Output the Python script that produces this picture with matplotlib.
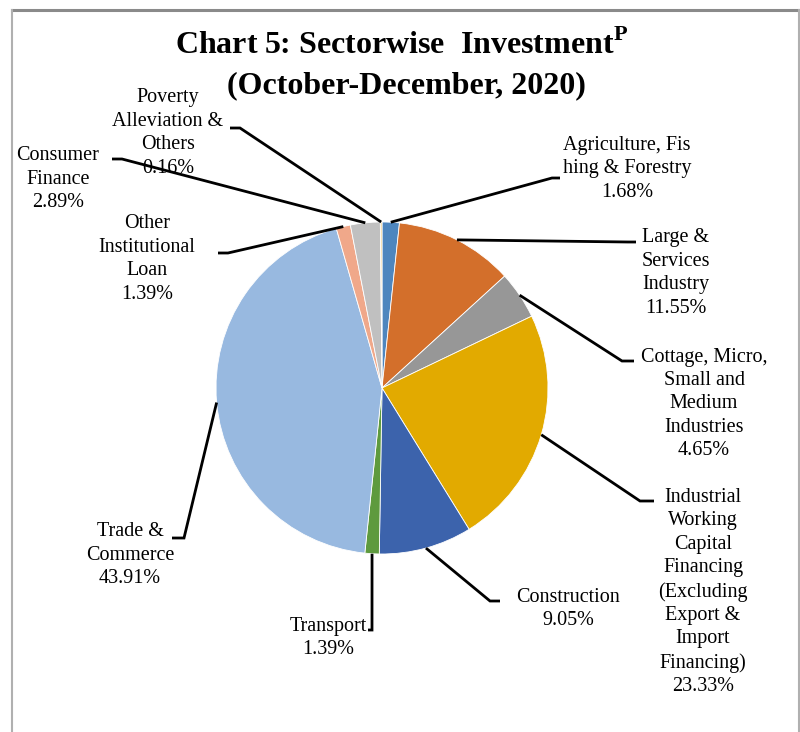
import numpy as np
import matplotlib.pyplot as plt

plt.rcParams['font.family'] = ['Liberation Serif', 'DejaVu Serif']
plt.rcParams['mathtext.fontset'] = 'custom'
plt.rcParams['mathtext.rm'] = 'Liberation Serif:bold'
plt.rcParams['mathtext.bf'] = 'Liberation Serif:bold'

# sector shares, clockwise from 12 o'clock
sectors = [
    "Agriculture, Fis\nhing & Forestry",
    "Large &\nServices\nIndustry",
    "Cottage, Micro,\nSmall and\nMedium\nIndustries",
    "Industrial\nWorking\nCapital\nFinancing\n(Excluding\nExport &\nImport\nFinancing)",
    "Construction",
    "Transport",
    "Trade &\nCommerce",
    "Other\nInstitutional\nLoan",
    "Consumer\nFinance",
    "Poverty\nAlleviation &\nOthers",
]
shares = [1.68, 11.55, 4.65, 23.33, 9.05, 1.39, 43.91, 1.39, 2.89, 0.16]
colors = ['#4E86BE', '#D36F2B', '#979797', '#E2AA00', '#3C63AC',
          '#5E9A3E', '#98B9E0', '#F0A88A', '#C0C0C0', '#F2CF86']

# label layout in pixel coords (x, y from top): text centre, elbow, line end
text_pos = [(627, 169), (676, 273), (704, 404), (703, 592), (568, 609),
            (328, 638), (130, 555), (147, 259), (58, 179), (168, 133)]
elbows = [(552, 178), (628, 242), (622, 361), (640, 501), (490, 601),
          (372, 630), (184, 538), (228, 253), (122, 159), (240, 128)]
ends = [(560, 178), (636, 242), (634, 361), (654, 501), (500, 601),
        (368, 630), (172, 538), (218, 253), (112, 159), (230, 128)]

W, H = 800, 732
fig = plt.figure(figsize=(W / 100, H / 100), dpi=100)
ax = fig.add_axes([0, 0, 1, 1])


def Y(py):
    return H - py


cx, cy, R = 382, Y(388), 166
ax.pie(shares, colors=colors, startangle=90, counterclock=False,
       center=(cx, cy), radius=R, frame=True,
       wedgeprops=dict(edgecolor='white', linewidth=0.6))
ax.set_xlim(0, W)
ax.set_ylim(0, H)
ax.axis('off')

# leader lines start at the middle of each wedge's arc
cum = np.cumsum([0] + shares[:-1])
for i, v in enumerate(shares):
    ang = np.deg2rad(90 - 360 * (cum[i] + v / 2) / 100)
    ax_, ay_ = cx + R * np.cos(ang), cy + R * np.sin(ang)
    ex, ey = elbows[i]
    tx, ty = ends[i]
    ax.plot([ax_, ex, tx], [ay_, Y(ey), Y(ty)], color='black', lw=2.0,
            solid_capstyle='butt', solid_joinstyle='miter', zorder=3)
    px, py = text_pos[i]
    ax.text(px, Y(py), f"{sectors[i]}\n{v:.2f}%", ha='center', va='center',
            fontsize=14.5, linespacing=1.32, zorder=4)

# title
ax.text(402, Y(45), r"Chart 5: Sectorwise  Investment$^{\mathrm{P}}$",
        ha='center', va='center', fontsize=23, fontweight='bold')
ax.text(406, Y(86), "(October-December, 2020)",
        ha='center', va='center', fontsize=23, fontweight='bold')

# frame around the chart area
ax.plot([12, 799], [Y(10), Y(10)], color='#8a8a8a', lw=2.2)
ax.plot([12, 12], [Y(10), 0], color='#b0b0b0', lw=1.5)
ax.plot([798.5, 798.5], [Y(10), 0], color='#b0b0b0', lw=1.5)

fig.savefig('out.png', dpi=100)
